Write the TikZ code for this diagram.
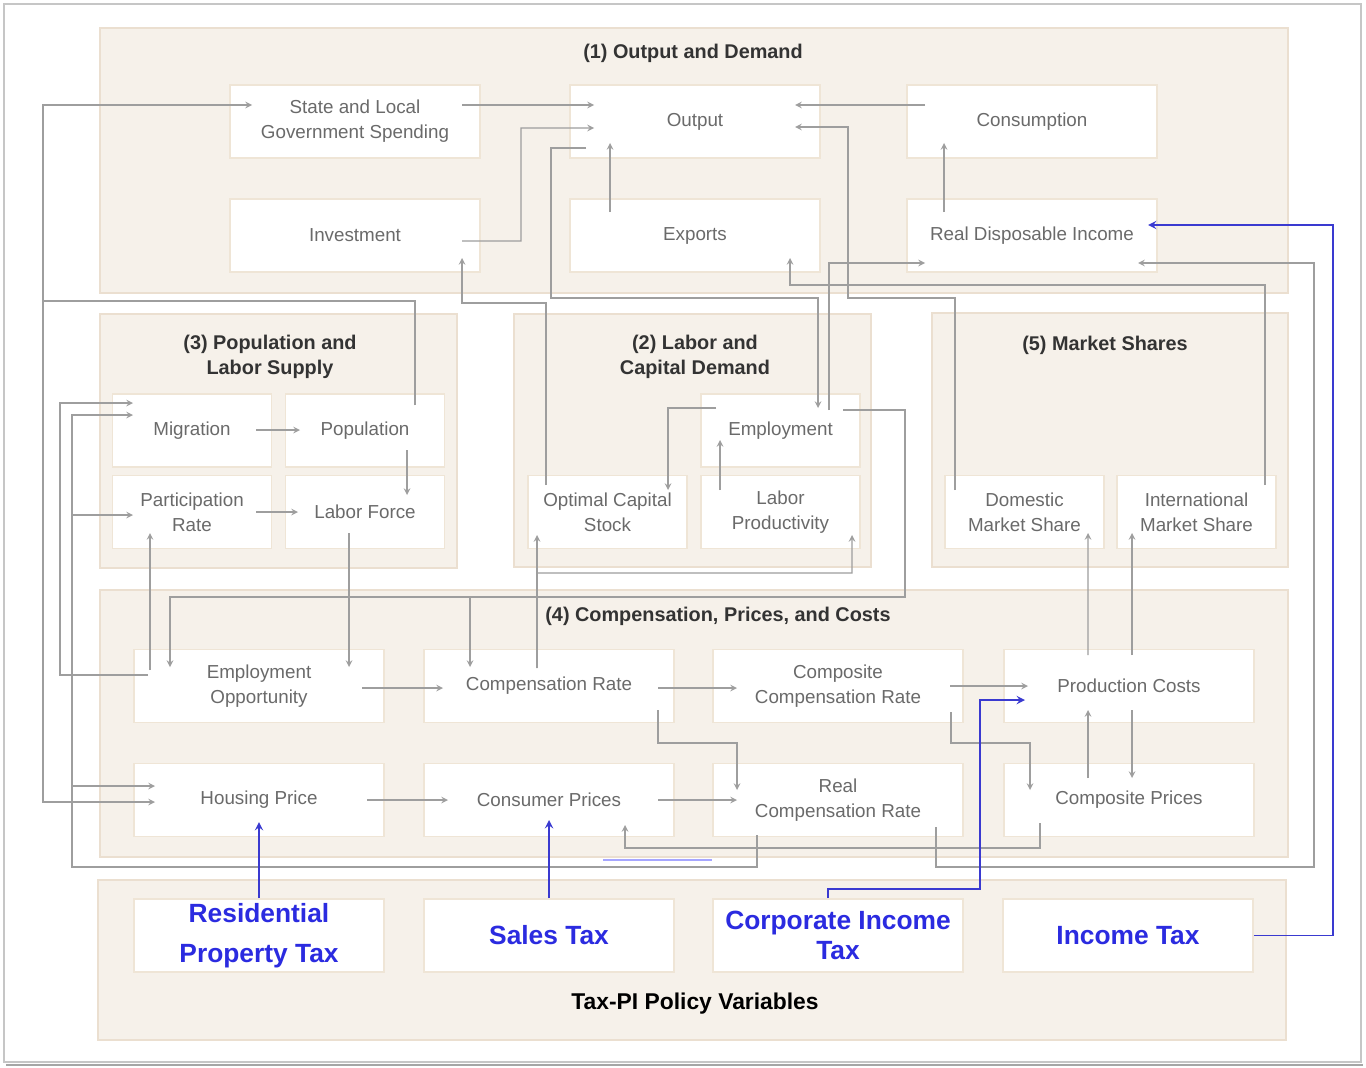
\documentclass[tikz,border=0pt]{standalone}
\usepackage{fontspec}
\setmainfont{Liberation Sans}
\usetikzlibrary{calc}

\definecolor{panelfill}{HTML}{F6F1EA}
\definecolor{paneledge}{HTML}{EBDFD0}
\definecolor{boxedge}{HTML}{EFE5D6}
\definecolor{boxtext}{HTML}{6A6A6A}
\definecolor{linegray}{HTML}{9E9E9E}
\definecolor{taxblue}{HTML}{2B2BE0}
\definecolor{taxline}{HTML}{3A3AD0}

\begin{document}
\begin{tikzpicture}[x=0.02cm, y=-0.02cm]

% definitions
\tikzstyle{panel} = [fill=panelfill, draw=paneledge, line width=1pt]
\tikzstyle{ptitle} = [align=center, text=black!80, font=\fontsize{11.3}{14.2}\selectfont\bfseries]
\tikzstyle{box} = [rectangle, minimum width=5cm, minimum height=1.46cm, inner sep=0pt, draw=boxedge, line width=1pt, fill=white, align=center, text=boxtext, font=\fontsize{10.7}{14.2}\selectfont]
\tikzstyle{sbox} = [box, minimum width=3.18cm]
\tikzstyle{tax} = [box, text=taxblue, font=\fontsize{15}{23}\selectfont\bfseries]

\tikzstyle{arrow} = [->,>=stealth, draw=linegray, line width=0.7pt]
\tikzstyle{line} = [draw=linegray, line width=0.7pt]
\tikzstyle{taxarrow} = [->,>=stealth, draw=taxline, line width=1.1pt]

\useasboundingbox (0,0) rectangle (1366,1068);
\fill[white] (0,0) rectangle (1366,1068);
\draw[gray!45, line width=1.5pt] (4,4) rectangle (1361,1062);
\draw[gray!70, line width=1.5pt] (6,1065) -- (1363,1065);

% the panels
\draw[panel] (100,28) rectangle (1288,293);
\draw[panel] (100,314) rectangle (457,568);
\draw[panel] (514,314) rectangle (871,567);
\draw[panel] (932,313) rectangle (1288,567);
\draw[panel] (100,590) rectangle (1288,857);
\draw[panel] (98,880) rectangle (1286,1040);

\node (t1) [ptitle] at (693,53) {(1) Output and Demand};
\node (t3) [ptitle] at (270,357) {(3) Population and\\Labor Supply};
\node (t2) [ptitle] at (695,357) {(2) Labor and\\Capital Demand};
\node (t5) [ptitle] at (1105,345) {(5) Market Shares};
\node (t4) [ptitle] at (718,616) {(4) Compensation, Prices, and Costs};
\node (t6) [ptitle, text=black, font=\fontsize{13}{16}\selectfont\bfseries] at (695,1004) {Tax-PI Policy Variables};

% the graph
\node (slgs) [box] at (355,121.5) {State and Local\\Government Spending};
\node (out) [box] at (695,121.5) {Output};
\node (cons) [box] at (1032,121.5) {Consumption};
\node (inv) [box] at (355,235.5) {Investment};
\node (exp) [box] at (695,235.5) {Exports};
\node (rdi) [box] at (1032,235.5) {Real Disposable Income};

\node (mig) [sbox] at (192,430.5) {Migration};
\node (pop) [sbox] at (365,430.5) {Population};
\node (part) [sbox] at (192,512) {Participation\\Rate};
\node (lf) [sbox] at (365,512) {Labor Force};

\node (emp) [sbox] at (780.5,430.5) {Employment};
\node (ocs) [sbox] at (607.5,512) {Optimal Capital\\Stock};
\node (lp) [sbox] at (780.5,512) {Labor\\Productivity};

\node (dms) [sbox] at (1024.5,512) {Domestic\\Market Share};
\node (ims) [sbox] at (1196.5,512) {International\\Market Share};

\node (eo) [box] at (259,686) {Employment\\Opportunity};
\node (cr) [box] at (549,686) {Compensation Rate};
\node (ccr) [box] at (838,686) {Composite\\Compensation Rate};
\node (pc) [box] at (1129,686) {Production Costs};
\node (hp) [box] at (259,800) {Housing Price};
\node (cp) [box] at (549,800) {Consumer Prices};
\node (rcr) [box] at (838,800) {Real\\Compensation Rate};
\node (cpr) [box] at (1129,800) {Composite Prices};

\node (rpt) [tax] at (259,935.5) {Residential\\Property Tax};
\node (st) [tax] at (549,935.5) {Sales Tax};
\node (cit) [tax, font=\fontsize{15}{17.5}\selectfont\bfseries] at (838,935.5) {Corporate Income\\Tax};
\node (it) [tax] at (1128,935.5) {Income Tax};

% output and demand
\draw [arrow] ($(slgs)+(107,-16.5)$) -- ($(out)+(-101,-16.5)$);
\draw [arrow] ($(inv)+(107,5.5)$) -| (521,128) -- ($(out)+(-101,6.5)$);
\draw [arrow] ($(exp)+(-85,-23.5)$) -- ($(out)+(-85,21.5)$);
\draw [arrow] ($(cons)+(-107,-16.5)$) -- ($(out)+(100,-16.5)$);
\draw [arrow] ($(rdi)+(-88,-23.5)$) -- ($(cons)+(-88,21.5)$);
\draw [arrow] ($(out)+(-109,26.5)$) -| (551,298) -| ($(emp)+(37.5,-22.5)$);
\draw [arrow] ($(dms)+(-69.5,-22)$) |- (848,298) |- ($(out)+(100,5.5)$);
\draw [arrow] ($(emp)+(48.5,-20.5)$) |- ($(rdi)+(-107,27.5)$);
\draw [arrow] ($(ims)+(68.5,-27)$) |- (790,285) -- ($(exp)+(95,22.5)$);
\draw [arrow] ($(rcr)+(98,27)$) |- (1314,867) |- ($(rdi)+(106,27.5)$);
\draw [arrow] ($(ocs)+(-61.5,-27)$) |- (462,303) -- ($(inv)+(107,22.5)$);

% population and labor supply
\draw [arrow] ($(pop)+(50,-25.5)$) |- (43,301) |- ($(slgs)+(-103,-16.5)$);
\draw [arrow] ($(pop)+(50,-25.5)$) |- (43,301) |- ($(hp)+(-104,2)$);
\draw [arrow] ($(eo)+(-111,-11)$) -| (60,403) -- ($(mig)+(-59,-27.5)$);
\draw [arrow] ($(eo)+(-109,-16)$) -- ($(part)+(-42,21)$);
\draw [arrow] ($(rcr)+(-81,35)$) |- (72,867) |- ($(mig)+(-59,-15.5)$);
\draw [arrow] ($(rcr)+(-81,35)$) |- (72,867) |- ($(part)+(-59,3)$);
\draw [arrow] ($(rcr)+(-81,35)$) |- (72,867) |- ($(hp)+(-104,-14)$);
\draw [arrow] ($(mig)+(64,-0.5)$) -- ($(pop)+(-65,-0.5)$);
\draw [arrow] ($(part)+(64,0)$) -- ($(lf)+(-67,0)$);
\draw [arrow] ($(pop)+(42,19.5)$) -- ($(lf)+(42,-17)$);
\draw [arrow] ($(lf)+(-16,21)$) -- ($(eo)+(90,-19)$);

% labor and capital demand
\draw [arrow] ($(emp)+(62.5,-20.5)$) -| (905,597) -| ($(eo)+(-89,-19)$);
\draw [arrow] ($(emp)+(62.5,-20.5)$) -| (905,597) -| ($(cr)+(-79,-19)$);
\draw [arrow] ($(cr)+(-12,-18)$) -- ($(ocs)+(-70.5,23)$);
\draw [arrow] ($(cr)+(-12,-18)$) |- (852,573) -- ($(lp)+(71.5,23)$);
\draw [arrow] ($(lp)+(-60.5,-22)$) -- ($(emp)+(-60.5,9.5)$);
\draw [arrow] ($(emp)+(-64.5,-22.5)$) -| ($(ocs)+(60.5,-22)$);

% compensation, prices and costs
\draw [arrow] ($(eo)+(103,2)$) -- ($(cr)+(-106,2)$);
\draw [arrow] ($(cr)+(109,2)$) -- ($(ccr)+(-101,2)$);
\draw [arrow] ($(cr)+(109,24)$) |- (737,743) -- ($(rcr)+(-101,-10)$);
\draw [arrow] ($(cp)+(109,0)$) -- ($(rcr)+(-101,0)$);
\draw [arrow] ($(hp)+(108,0)$) -- ($(cp)+(-101,0)$);
\draw [arrow] ($(ccr)+(112,0)$) -- ($(pc)+(-101,0)$);
\draw [arrow] ($(ccr)+(113,26)$) |- (1030,743) -- ($(cpr)+(-99,-10)$);
\draw [arrow] ($(cpr)+(-89,23)$) |- (625,848) -- ($(cp)+(76,25)$);
\draw [arrow] ($(cpr)+(-41,-22)$) -- ($(pc)+(-41,24)$);
\draw [arrow] ($(pc)+(3,24)$) -- ($(cpr)+(3,-22)$);
\draw [arrow] ($(pc)+(-41,-31)$) -- ($(dms)+(63.5,21)$);
\draw [arrow] ($(pc)+(3,-31)$) -- ($(ims)+(-64.5,21)$);
\draw [blue!35, line width=0.8pt] (603,860) -- (712,860);

% policy variables
\draw [taxarrow] (rpt.north) -- ($(hp)+(0,22)$);
\draw [taxarrow] (st.north) -- ($(cp)+(0,20)$);
\draw [taxarrow] ($(cit.north)+(-10,0)$) |- (980,889) |- ($(pc)+(-104,14)$);
\draw [taxarrow] (it.east) -| (1333,225) -- ($(rdi)+(116,-10.5)$);

\end{tikzpicture}
\end{document}
